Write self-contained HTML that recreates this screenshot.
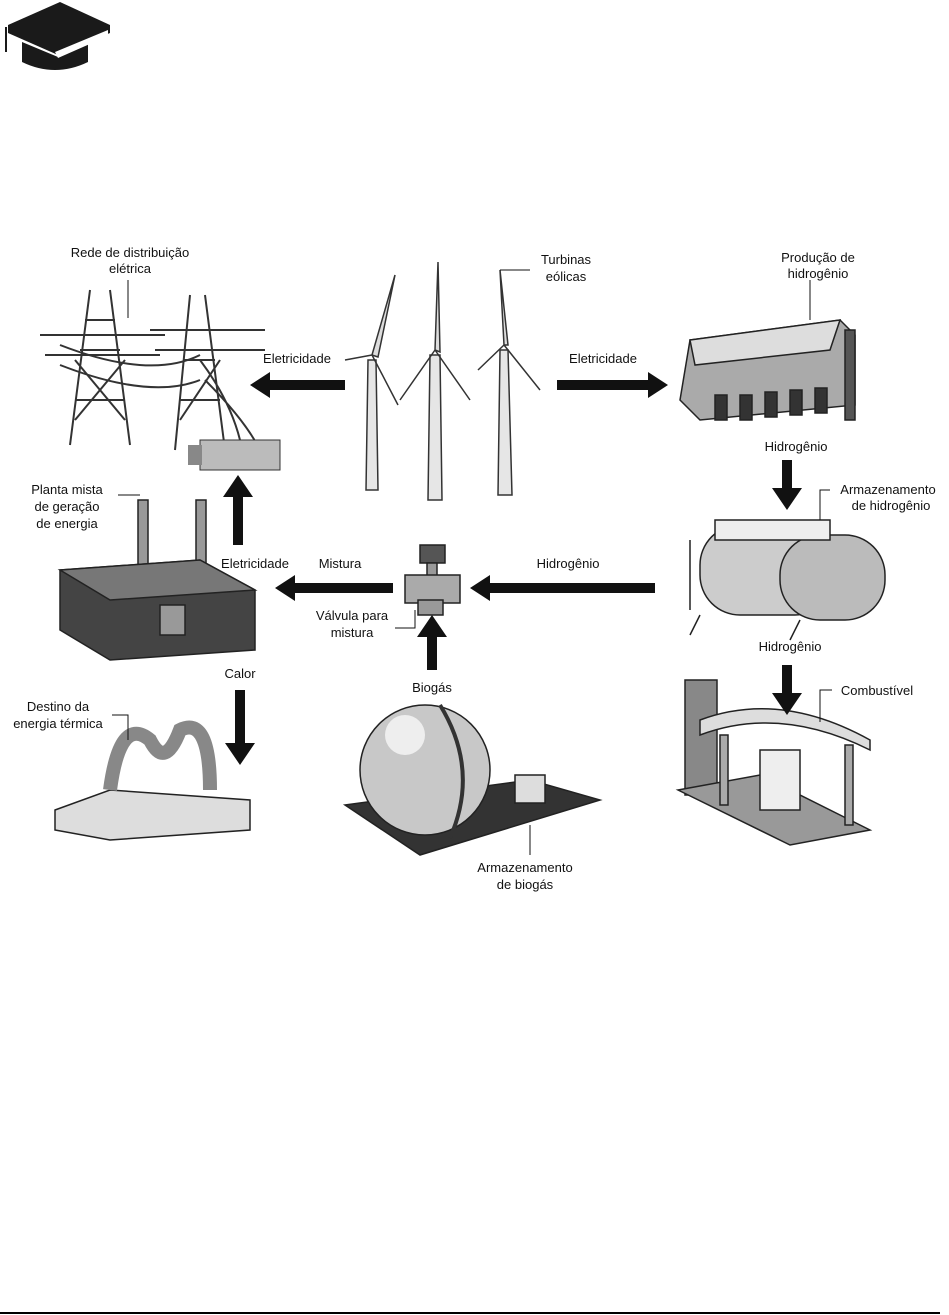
<!DOCTYPE html>
<html><head><meta charset="utf-8"><style>
html,body{margin:0;padding:0;background:#fff;}
svg{display:block}
text{font-family:"Liberation Sans",Arial,sans-serif;font-size:13px;fill:#111;}
</style></head><body>
<svg width="949" height="1315" viewBox="0 0 949 1315" xmlns="http://www.w3.org/2000/svg">
<!-- graduation cap -->
<path d="M8,25 L60,2 L110,25 L110,33 L58,55 L8,33 Z" fill="#1a1a1a"/>
<path d="M22,42 L22,62 Q55,78 88,62 L88,44 L58,57 Z" fill="#1a1a1a"/>
<path d="M55,52 L108,30 L108,36 L58,58 Z" fill="#fff"/>
<line x1="6" y1="27" x2="6" y2="52" stroke="#1a1a1a" stroke-width="2"/>
<!-- bottom rule -->
<line x1="0" y1="1313" x2="940" y2="1313" stroke="#000" stroke-width="2"/>

<!-- Power lines (left top) -->
<g stroke="#333" stroke-width="2" fill="none">
<path d="M90,290 L70,445 M110,290 L130,445 M75,400 L125,400 M80,350 L120,350 M85,320 L115,320 M75,420 L125,360 M75,360 L125,420"/>
<path d="M40,335 L165,335 M45,355 L160,355"/>
<path d="M190,295 L175,450 M205,295 L225,450 M180,400 L220,400 M183,360 L215,360 M186,330 L210,330 M180,420 L220,360"/>
<path d="M150,330 L265,330 M155,350 L265,350"/>
<path d="M60,345 Q150,380 200,355 M60,365 Q150,400 200,380 M200,360 Q230,400 240,440 M205,380 Q245,420 260,450"/>
</g>
<rect x="200" y="440" width="80" height="30" fill="#bbb" stroke="#333"/>
<rect x="188" y="445" width="14" height="20" fill="#888"/>

<!-- wind turbines -->
<g stroke="#333" stroke-width="1.5">
<polygon points="368,360 376,360 378,490 366,490" fill="#e6e6e6"/>
<polygon points="430,355 440,355 442,500 428,500" fill="#e6e6e6"/>
<polygon points="500,350 508,350 512,495 498,495" fill="#e6e6e6"/>
<path d="M372,355 L395,275 L378,357 Z M372,355 L345,360 M372,355 L398,405" fill="#ddd"/>
<path d="M435,350 L438,262 L440,352 Z M435,350 L400,400 M435,350 L470,400" fill="#ddd"/>
<path d="M504,345 L500,270 L508,345 Z M504,345 L478,370 M504,345 L540,390" fill="#ddd"/>
</g>

<!-- Electrolyzer -->
<g stroke="#222" stroke-width="1.5">
<path d="M690,340 L840,320 L855,335 L855,405 L700,420 L680,400 Z" fill="#aaa"/>
<path d="M690,340 L840,320 L830,350 L695,365 Z" fill="#ddd"/>
<rect x="845" y="330" width="10" height="90" fill="#555"/>
<rect x="715" y="395" width="12" height="25" fill="#333"/>
<rect x="740" y="395" width="12" height="25" fill="#333"/>
<rect x="765" y="392" width="12" height="25" fill="#333"/>
<rect x="790" y="390" width="12" height="25" fill="#333"/>
<rect x="815" y="388" width="12" height="25" fill="#333"/>
</g>

<!-- hydrogen storage tanks -->
<g stroke="#222" stroke-width="1.5">
<rect x="700" y="525" width="135" height="90" rx="40" fill="#ccc"/>
<rect x="780" y="535" width="105" height="85" rx="40" fill="#bbb"/>
<path d="M715,520 L830,520 L830,540 L715,540 Z" fill="#eee"/>
<path d="M690,540 L690,610 M700,615 L690,635 M800,620 L790,640" fill="none"/>
</g>

<!-- fuel station -->
<g stroke="#222" stroke-width="1.5">
<rect x="685" y="680" width="32" height="115" fill="#888"/>
<path d="M700,720 Q780,690 870,740 L870,750 Q780,705 700,735 Z" fill="#ddd"/>
<path d="M678,790 L760,775 L870,830 L790,845 Z" fill="#999"/>
<rect x="760" y="750" width="40" height="60" fill="#eee"/>
<rect x="720" y="735" width="8" height="70" fill="#aaa"/>
<rect x="845" y="745" width="8" height="80" fill="#aaa"/>
</g>

<!-- Plant -->
<g stroke="#222" stroke-width="1.5">
<rect x="138" y="500" width="10" height="70" fill="#999"/>
<rect x="196" y="500" width="10" height="70" fill="#999"/>
<path d="M60,570 L200,560 L255,590 L255,650 L110,660 L60,630 Z" fill="#444"/>
<path d="M60,570 L200,560 L255,590 L110,600 Z" fill="#777"/>
<rect x="160" y="605" width="25" height="30" fill="#999"/>
</g>

<!-- Valve -->
<g stroke="#222" stroke-width="1.5">
<rect x="420" y="545" width="25" height="18" fill="#555"/>
<rect x="427" y="563" width="10" height="15" fill="#999"/>
<rect x="405" y="575" width="55" height="28" fill="#aaa"/>
<rect x="418" y="600" width="25" height="15" fill="#999"/>
</g>

<!-- thermal pipes -->
<g stroke="#222" stroke-width="1.5">
<path d="M55,810 L110,790 L250,800 L250,830 L110,840 L55,830 Z" fill="#ddd"/>
<path d="M110,790 Q120,715 150,740 Q165,770 180,730 Q210,715 210,790" fill="none" stroke="#888" stroke-width="14"/>
</g>

<!-- biogas sphere -->
<g stroke="#222" stroke-width="1.5">
<path d="M345,805 L530,780 L600,800 L420,855 Z" fill="#333"/>
<circle cx="425" cy="770" r="65" fill="#c8c8c8"/>
<circle cx="405" cy="735" r="20" fill="#eee" stroke="none"/>
<path d="M440,705 Q480,770 450,838" fill="none" stroke="#333" stroke-width="4"/>
<rect x="515" y="775" width="30" height="28" fill="#ddd"/>
</g>

<!-- Arrows -->
<g fill="#111">
<polygon points="345,380 270,380 270,372 250,385 270,398 270,390 345,390"/>
<polygon points="557,380 648,380 648,372 668,385 648,398 648,390 557,390"/>
<polygon points="782,460 792,460 792,488 802,488 787,510 772,488 782,488"/>
<polygon points="655,583 490,583 490,575 470,588 490,601 490,593 655,593"/>
<polygon points="393,583 295,583 295,575 275,588 295,601 295,593 393,593"/>
<polygon points="233,545 243,545 243,497 253,497 238,475 223,497 233,497"/>
<polygon points="427,670 437,670 437,637 447,637 432,615 417,637 427,637"/>
<polygon points="235,690 245,690 245,743 255,743 240,765 225,743 235,743"/>
<polygon points="782,665 792,665 792,693 802,693 787,715 772,693 782,693"/>
</g>

<!-- leader lines -->
<g stroke="#111" stroke-width="1" fill="none">
<path d="M128,280 L128,318"/>
<path d="M530,270 L500,270"/>
<path d="M810,280 L810,320"/>
<path d="M830,490 L820,490 L820,520"/>
<path d="M118,495 L140,495"/>
<path d="M395,628 L415,628 L415,610"/>
<path d="M832,690 L820,690 L820,722"/>
<path d="M112,715 L128,715 L128,740"/>
<path d="M530,855 L530,825"/>
</g>

<!-- labels -->
<text x="130" y="257" text-anchor="middle">Rede de distribuição</text>
<text x="130" y="273" text-anchor="middle">elétrica</text>
<text x="566" y="264" text-anchor="middle">Turbinas</text>
<text x="566" y="281" text-anchor="middle">eólicas</text>
<text x="818" y="262" text-anchor="middle">Produção de</text>
<text x="818" y="278" text-anchor="middle">hidrogênio</text>
<text x="297" y="363" text-anchor="middle">Eletricidade</text>
<text x="603" y="363" text-anchor="middle">Eletricidade</text>
<text x="796" y="451" text-anchor="middle">Hidrogênio</text>
<text x="888" y="494" text-anchor="middle">Armazenamento</text>
<text x="891" y="510" text-anchor="middle">de hidrogênio</text>
<text x="67" y="494" text-anchor="middle">Planta mista</text>
<text x="67" y="511" text-anchor="middle">de geração</text>
<text x="67" y="528" text-anchor="middle">de energia</text>
<text x="255" y="568" text-anchor="middle">Eletricidade</text>
<text x="340" y="568" text-anchor="middle">Mistura</text>
<text x="568" y="568" text-anchor="middle">Hidrogênio</text>
<text x="352" y="620" text-anchor="middle">Válvula para</text>
<text x="352" y="637" text-anchor="middle">mistura</text>
<text x="790" y="651" text-anchor="middle">Hidrogênio</text>
<text x="240" y="678" text-anchor="middle">Calor</text>
<text x="432" y="692" text-anchor="middle">Biogás</text>
<text x="877" y="695" text-anchor="middle">Combustível</text>
<text x="58" y="711" text-anchor="middle">Destino da</text>
<text x="58" y="728" text-anchor="middle">energia térmica</text>
<text x="525" y="872" text-anchor="middle">Armazenamento</text>
<text x="525" y="889" text-anchor="middle">de biogás</text>
</svg>
</body></html>
